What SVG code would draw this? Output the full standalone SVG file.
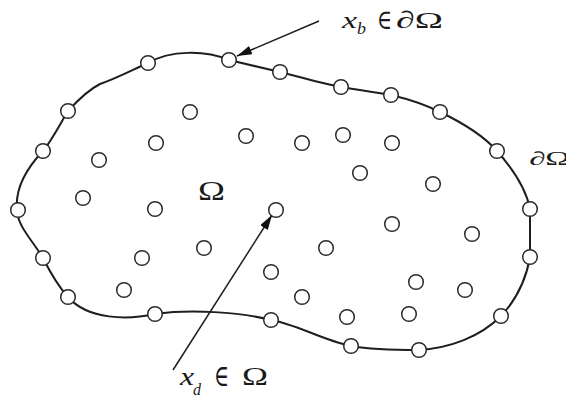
<svg xmlns="http://www.w3.org/2000/svg" width="566" height="406" viewBox="0 0 566 406">
<style>
.pt{fill:#fff;stroke:#2a2a2a;stroke-width:1.5}
.bd{fill:none;stroke:#1e1e1e;stroke-width:2}
.ar{stroke:#1e1e1e;stroke-width:1.5;fill:none}
.t{font-family:"Liberation Serif","DejaVu Serif",serif;fill:#1a1a1a}
.i{font-style:italic}
</style>
<defs>
<marker id="ah" markerUnits="userSpaceOnUse" markerWidth="16" markerHeight="10" refX="15" refY="4.5" orient="auto">
<path d="M0,0 L15,4.5 L0,9 z" fill="#111"/>
</marker>
</defs>
<rect width="566" height="406" fill="#fff"/>
<g id="boundary">
<path class="bd" d="M229,60 C246,64 263,68 280,72 C300,77 320,83 341,87 C358,90 374,92 391,95 C408,99 424,104 440,112 C463,123 483,135 497,151 C512,168 526,188 530,209 L530,257 C526,280 516,300 501,316 C480,337 450,348 419,350 C396,350 373,350 351,346 C322,340 296,324 271,320 C240,312 190,309 155,314 C128,320 88,320 68,297 C58,286 50,272 43,258 C32,240 17,225 17,210 C15,190 25,170 43,151 C52,140 60,124 68,111 C78,100 88,90 100,84 C115,79 128,72 148,63 C170,50 205,50 229,60 Z"/>
</g>
<g id="connectors">
<line class="ar" x1="319" y1="21" x2="237" y2="56" marker-end="url(#ah)"/>
<line class="ar" x1="173" y1="370" x2="272" y2="215" marker-end="url(#ah)"/>
</g>
<g id="boundary-nodes">
<g id="b0"><circle class="pt" cx="229" cy="60" r="7.3"/></g>
<g id="b1"><circle class="pt" cx="280" cy="72" r="7.3"/></g>
<g id="b2"><circle class="pt" cx="341" cy="87" r="7.3"/></g>
<g id="b3"><circle class="pt" cx="391" cy="95" r="7.3"/></g>
<g id="b4"><circle class="pt" cx="440" cy="112" r="7.3"/></g>
<g id="b5"><circle class="pt" cx="497" cy="151" r="7.3"/></g>
<g id="b6"><circle class="pt" cx="530" cy="209" r="7.3"/></g>
<g id="b7"><circle class="pt" cx="530" cy="257" r="7.3"/></g>
<g id="b8"><circle class="pt" cx="501" cy="316" r="7.3"/></g>
<g id="b9"><circle class="pt" cx="419" cy="350" r="7.3"/></g>
<g id="b10"><circle class="pt" cx="351" cy="346" r="7.3"/></g>
<g id="b11"><circle class="pt" cx="271" cy="320" r="7.3"/></g>
<g id="b12"><circle class="pt" cx="155" cy="314" r="7.3"/></g>
<g id="b13"><circle class="pt" cx="68" cy="297" r="7.3"/></g>
<g id="b14"><circle class="pt" cx="43" cy="258" r="7.3"/></g>
<g id="b15"><circle class="pt" cx="18" cy="210" r="7.3"/></g>
<g id="b16"><circle class="pt" cx="43" cy="151" r="7.3"/></g>
<g id="b17"><circle class="pt" cx="68" cy="111" r="7.3"/></g>
<g id="b18"><circle class="pt" cx="148" cy="63" r="7.3"/></g>
</g>
<g id="interior-nodes">
<g id="d0"><circle class="pt" cx="190" cy="112" r="7.3"/></g>
<g id="d1"><circle class="pt" cx="246" cy="136" r="7.3"/></g>
<g id="d2"><circle class="pt" cx="156" cy="143" r="7.3"/></g>
<g id="d3"><circle class="pt" cx="99" cy="160" r="7.3"/></g>
<g id="d4"><circle class="pt" cx="302" cy="143" r="7.3"/></g>
<g id="d5"><circle class="pt" cx="343" cy="135" r="7.3"/></g>
<g id="d6"><circle class="pt" cx="392" cy="143" r="7.3"/></g>
<g id="d7"><circle class="pt" cx="360" cy="173" r="7.3"/></g>
<g id="d8"><circle class="pt" cx="433" cy="184" r="7.3"/></g>
<g id="d9"><circle class="pt" cx="83" cy="198" r="7.3"/></g>
<g id="d10"><circle class="pt" cx="155" cy="209" r="7.3"/></g>
<g id="d11"><circle class="pt" cx="276" cy="210" r="7.3"/></g>
<g id="d12"><circle class="pt" cx="204" cy="248" r="7.3"/></g>
<g id="d13"><circle class="pt" cx="142" cy="258" r="7.3"/></g>
<g id="d14"><circle class="pt" cx="124" cy="290" r="7.3"/></g>
<g id="d15"><circle class="pt" cx="271" cy="272" r="7.3"/></g>
<g id="d16"><circle class="pt" cx="392" cy="224" r="7.3"/></g>
<g id="d17"><circle class="pt" cx="472" cy="234" r="7.3"/></g>
<g id="d18"><circle class="pt" cx="326" cy="248" r="7.3"/></g>
<g id="d19"><circle class="pt" cx="416" cy="282" r="7.3"/></g>
<g id="d20"><circle class="pt" cx="465" cy="290" r="7.3"/></g>
<g id="d21"><circle class="pt" cx="302" cy="297" r="7.3"/></g>
<g id="d22"><circle class="pt" cx="347" cy="317" r="7.3"/></g>
<g id="d23"><circle class="pt" cx="409" cy="314" r="7.3"/></g>
</g>
<g id="labels">
<text class="t i" x="342" y="28" font-size="23" textLength="15" lengthAdjust="spacingAndGlyphs">x</text>
<text class="t i" x="357" y="34" font-size="17" textLength="9" lengthAdjust="spacingAndGlyphs">b</text>
<text class="t" x="377" y="29" font-size="28" textLength="15" lengthAdjust="spacingAndGlyphs">∈</text>
<text class="t" x="396" y="28" font-size="24" textLength="47" lengthAdjust="spacingAndGlyphs">∂Ω</text>
<text class="t" x="198" y="200" font-size="27" textLength="27" lengthAdjust="spacingAndGlyphs">Ω</text>
<text class="t" x="529" y="165" font-size="19" textLength="41" lengthAdjust="spacingAndGlyphs">∂Ω</text>
<text class="t i" x="180" y="385" font-size="26" textLength="14" lengthAdjust="spacingAndGlyphs">x</text>
<text class="t i" x="193" y="395" font-size="16" textLength="8" lengthAdjust="spacingAndGlyphs">d</text>
<text class="t" x="214" y="386" font-size="30" textLength="15" lengthAdjust="spacingAndGlyphs">∈</text>
<text class="t" x="242" y="385" font-size="26" textLength="26" lengthAdjust="spacingAndGlyphs">Ω</text>
</g>
</svg>
